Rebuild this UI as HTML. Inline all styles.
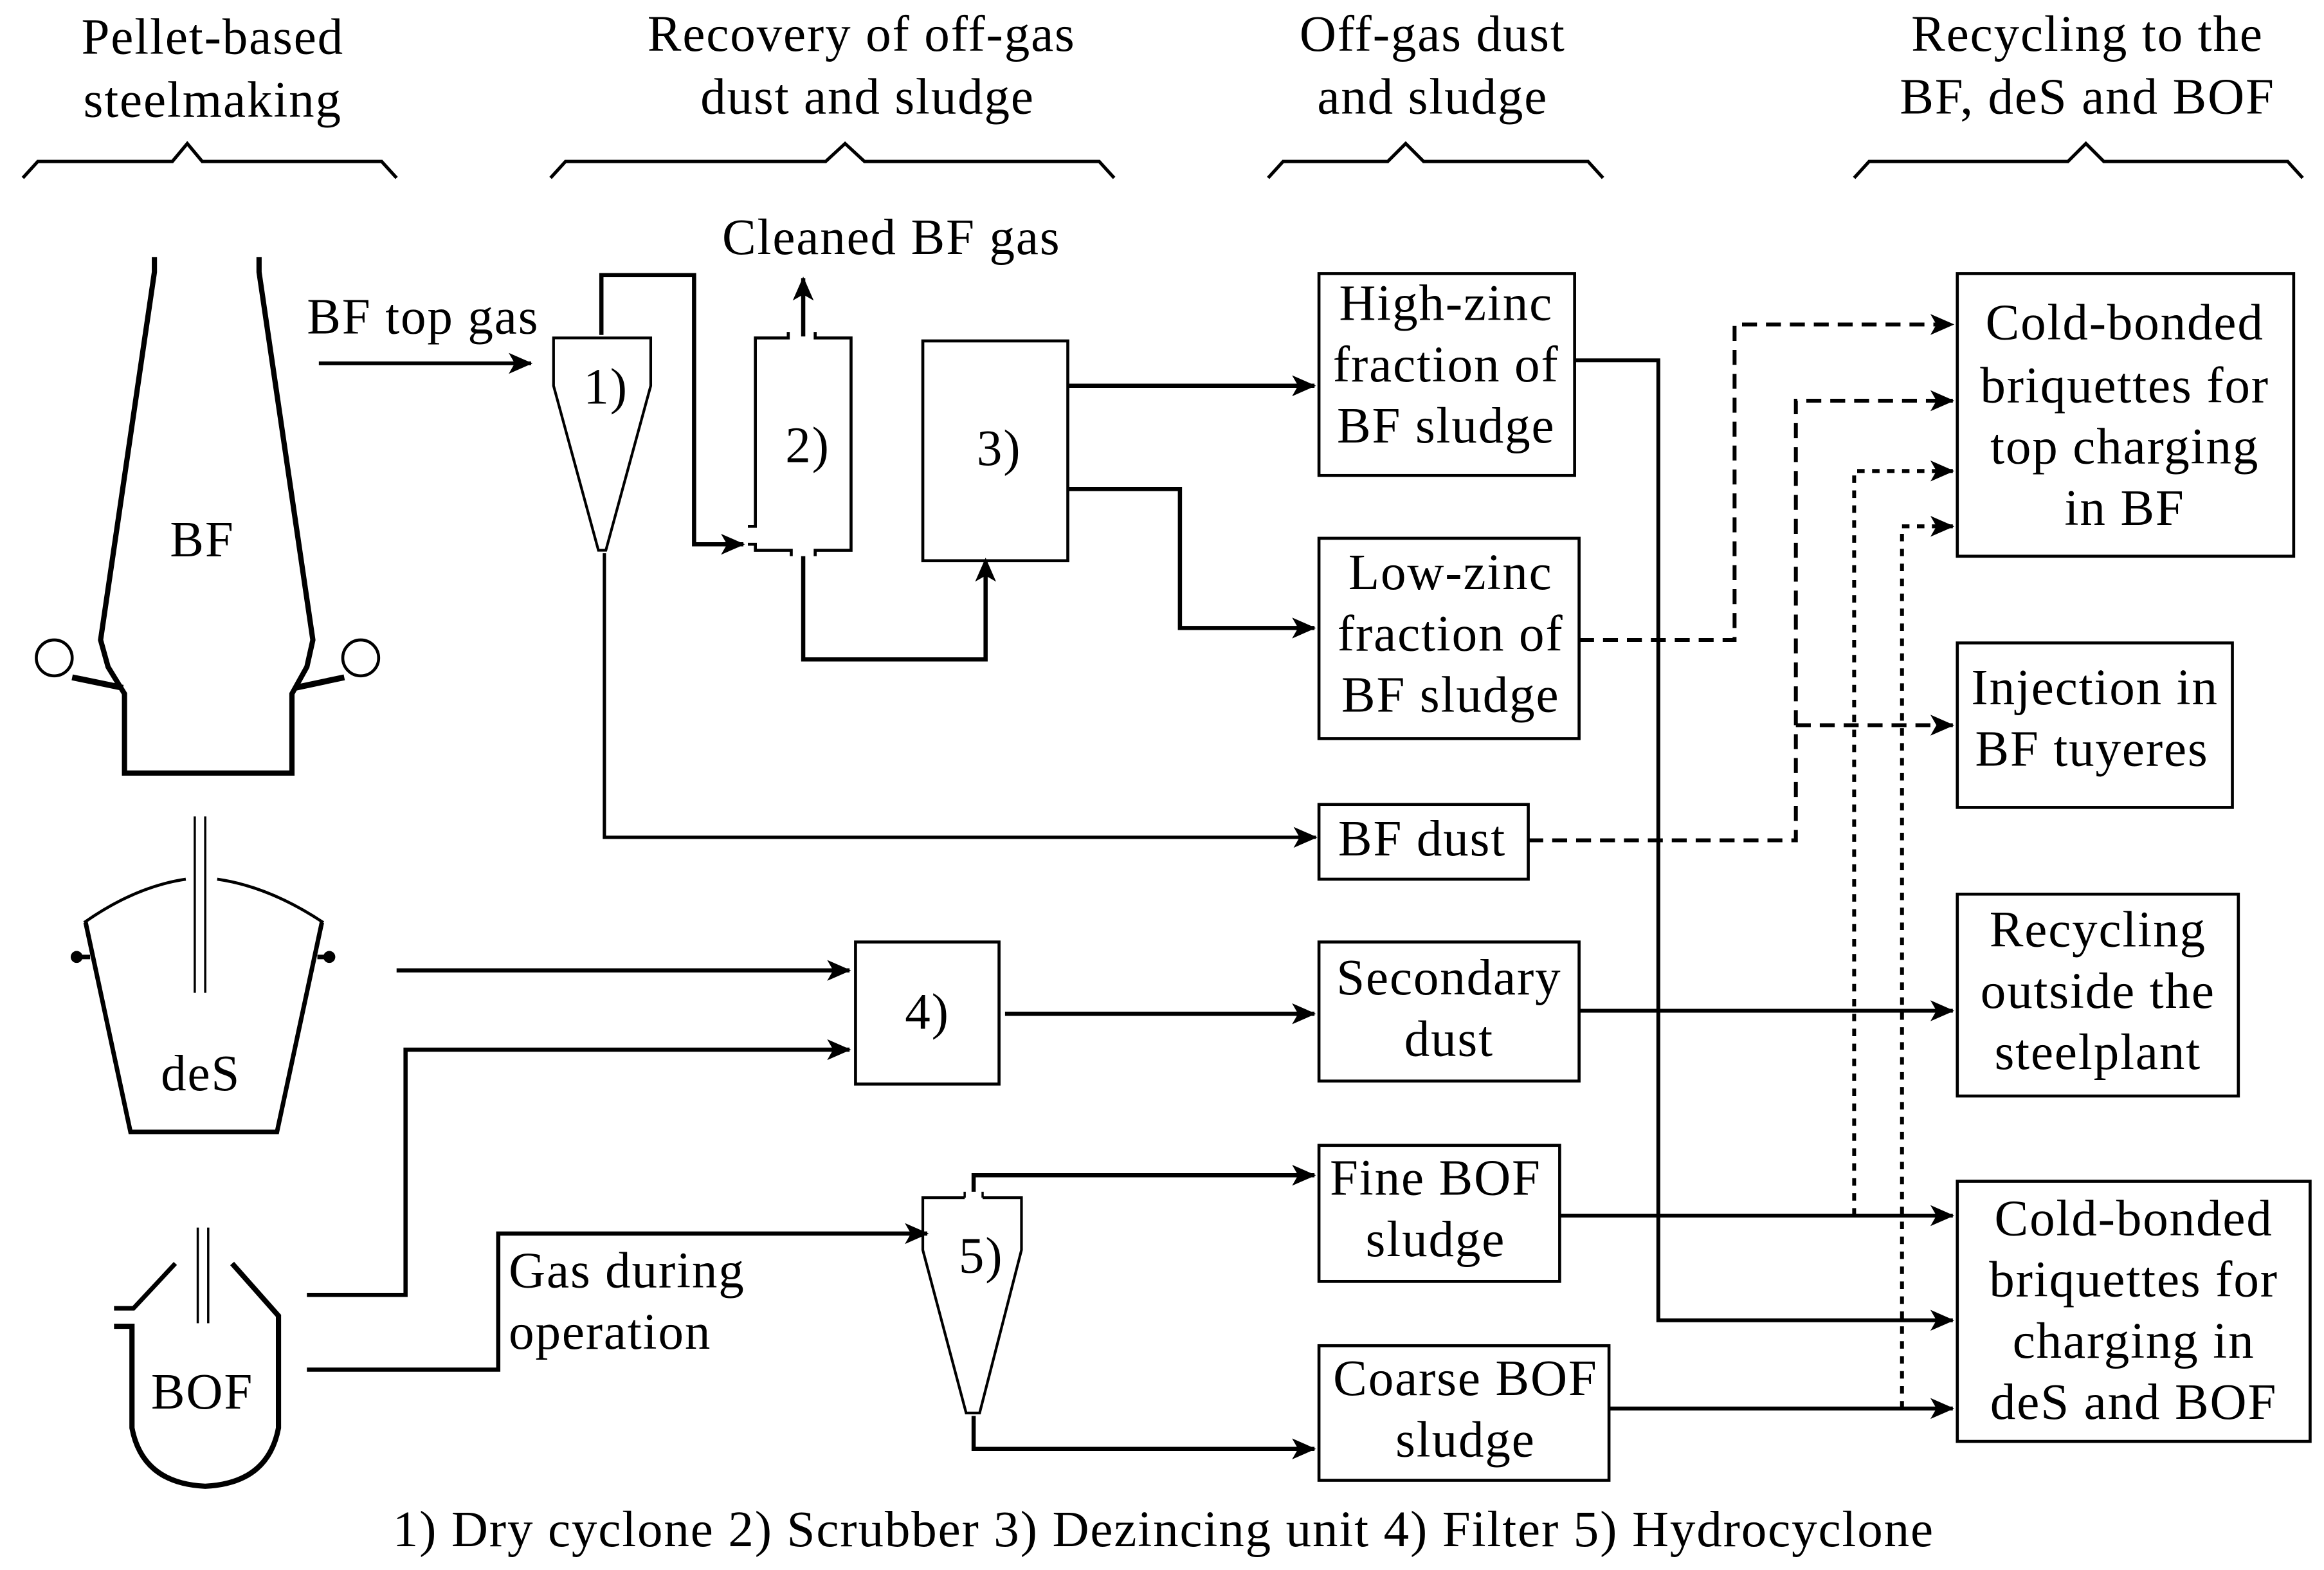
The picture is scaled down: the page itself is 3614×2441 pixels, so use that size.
<!DOCTYPE html>
<html><head><meta charset="utf-8"><style>
html,body{margin:0;padding:0;background:#fff;}
svg{display:block;}
text{font-family:"Liberation Serif",serif;font-size:34px;letter-spacing:0.8px;fill:#000;}
</style></head><body>
<svg width="3614" height="2441" viewBox="0 0 1554 1050" xmlns="http://www.w3.org/2000/svg">
<defs>
<marker id="b" markerWidth="16" markerHeight="16" refX="15" refY="8" orient="auto" markerUnits="userSpaceOnUse" viewBox="0 0 16 16">
<path d="M0,1 L16,8 L0,15 L4,8 z" fill="#000"/>
</marker>
</defs>
<g text-anchor="middle">
<text x="142" y="36">Pellet-based</text><text x="142" y="78">steelmaking</text>
<text x="576" y="34">Recovery of off-gas</text><text x="580" y="76">dust and sludge</text>
<text x="958" y="34">Off-gas dust</text><text x="958" y="76">and sludge</text>
<text x="1396" y="34">Recycling to the</text><text x="1396" y="76">BF, deS and BOF</text>
</g>
<g fill="none" stroke="#000" stroke-width="2.2">
<path d="M15,119 L25,108 L115,108 L125,96 L135,108 L255,108 L265,119"/>
<path d="M368,119 L378,108 L552,108 L565,96 L578,108 L735,108 L745,119"/>
<path d="M848,119 L858,108 L928,108 L940,96 L952,108 L1062,108 L1072,119"/>
<path d="M1240,119 L1250,108 L1383,108 L1395,96 L1407,108 L1530,108 L1540,119"/>
</g>
<!-- BF -->
<g fill="none" stroke="#000" stroke-width="3.5">
<path d="M103,172 L103,182 L67,428 L72,446 L83,464 L83,517 L195,517 L195,464 L205,446 L209,428 L173,182 L173,172"/>
<path d="M48,453 L82,460 M230,453 L197,460" stroke-width="4"/>
</g>
<circle cx="36" cy="440" r="12" fill="#fff" stroke="#000" stroke-width="2"/>
<circle cx="241" cy="440" r="12" fill="#fff" stroke="#000" stroke-width="2"/>
<text x="135" y="372" text-anchor="middle">BF</text>
<!-- deS -->
<g fill="none" stroke="#000">
<path d="M130,546 L130,664 M137,546 L137,664" stroke-width="1.5"/>
<path d="M56,617 Q90,593 124,588 M145,588 Q180,593 216,617" stroke-width="2"/>
<path d="M57,617 L87,757 L185,757 L215,617" stroke-width="3"/>
</g>
<circle cx="51" cy="640" r="4" fill="#000"/><circle cx="220" cy="640" r="4" fill="#000"/>
<path d="M51,640 L60,640 M212,640 L220,640" stroke="#000" stroke-width="3"/>
<text x="134" y="729" text-anchor="middle">deS</text>
<!-- BOF -->
<g fill="none" stroke="#000">
<path d="M132,821 L132,885 M139,821 L139,885" stroke-width="1.5"/>
<path d="M117,845 L89,875 L76,875" stroke-width="3"/>
<path d="M76,887 L88,887 L88,955 Q95,992 137,994 Q179,992 186,955 L186,880 L155,845" stroke-width="3.5"/>
</g>
<text x="135" y="942" text-anchor="middle">BOF</text>
<!-- BF top gas -->
<text x="205" y="223">BF top gas</text>
<path d="M213,243 L355,243" stroke="#000" stroke-width="2.5" marker-end="url(#b)"/>
<!-- cyclone 1 -->
<path d="M370,226 L435,226 L435,258 L405,368 L400,368 L370,258 Z" fill="none" stroke="#000" stroke-width="1.8"/>
<text x="405" y="270" text-anchor="middle">1)</text>
<g fill="none" stroke="#000" stroke-width="2.8">
<path d="M402,224 L402,184 L464,184 L464,364 L497,364" marker-end="url(#b)"/>
<path d="M404,370 L404,560 L880,560" stroke-width="2.2" marker-end="url(#b)"/>
</g>
<!-- scrubber -->
<g fill="none" stroke="#000" stroke-width="2">
<path d="M527,222 L527,226 L505,226 L505,352 L500,352"/>
<path d="M545,222 L545,226 L569,226 L569,368 L545,368 L545,372"/>
<path d="M500,364 L505,364 L505,368 L529,368 L529,372"/>
</g>
<text x="540" y="309" text-anchor="middle">2)</text>
<g fill="none" stroke="#000" stroke-width="2.8">
<path d="M537,225 L537,186" marker-end="url(#b)"/>
<path d="M537,372 L537,441 L659,441 L659,374" marker-end="url(#b)"/>
</g>
<text x="596" y="170" text-anchor="middle">Cleaned BF gas</text>
<!-- box 3 -->
<rect x="617" y="228" width="97" height="147" fill="none" stroke="#000" stroke-width="2"/>
<text x="668" y="311" text-anchor="middle">3)</text>
<g fill="none" stroke="#000" stroke-width="2.8">
<path d="M714,258 L879,258" marker-end="url(#b)"/>
<path d="M714,327 L789,327 L789,420 L879,420" marker-end="url(#b)"/>
</g>
<!-- boxes -->
<g fill="none" stroke="#000" stroke-width="2">
<rect x="882" y="183" width="171" height="135"/>
<rect x="882" y="360" width="174" height="134"/>
<rect x="882" y="538" width="140" height="50"/>
<rect x="882" y="630" width="174" height="93"/>
<rect x="882" y="766" width="161" height="91"/>
<rect x="882" y="900" width="194" height="90"/>
<rect x="572" y="630" width="96" height="95"/>
<rect x="1309" y="183" width="225" height="189"/>
<rect x="1309" y="430" width="184" height="110"/>
<rect x="1309" y="598" width="188" height="135"/>
<rect x="1309" y="790" width="236" height="174"/>
</g>
<g text-anchor="middle">
<text x="967" y="214">High-zinc</text><text x="967" y="255">fraction of</text><text x="967" y="296">BF sludge</text>
<text x="970" y="394">Low-zinc</text><text x="970" y="435">fraction of</text><text x="970" y="476">BF sludge</text>
<text x="951" y="572">BF dust</text>
<text x="969" y="665">Secondary</text><text x="969" y="706">dust</text>
<text x="960" y="799">Fine BOF</text><text x="960" y="840">sludge</text>
<text x="980" y="933">Coarse BOF</text><text x="980" y="974">sludge</text>
<text x="620" y="688">4)</text>
<text x="1421" y="227">Cold-bonded</text><text x="1421" y="269">briquettes for</text><text x="1421" y="310">top charging</text><text x="1421" y="351">in BF</text>
<text x="1401" y="471">Injection in</text><text x="1399" y="512">BF tuyeres</text>
<text x="1403" y="633">Recycling</text><text x="1403" y="674">outside the</text><text x="1403" y="715">steelplant</text>
<text x="1427" y="826">Cold-bonded</text><text x="1427" y="867">briquettes for</text><text x="1427" y="908">charging in</text><text x="1427" y="949">deS and BOF</text>
</g>
<!-- deS/BOF to filter -->
<g fill="none" stroke="#000" stroke-width="2.8">
<path d="M265,649 L568,649" marker-end="url(#b)"/>
<path d="M205,866 L271,866 L271,702 L568,702" marker-end="url(#b)"/>
<path d="M672,678 L879,678" marker-end="url(#b)"/>
<path d="M205,916 L333,916 L333,825 L620,825" marker-end="url(#b)"/>
</g>
<text x="340" y="861">Gas during</text><text x="340" y="902">operation</text>
<!-- hydrocyclone -->
<path d="M645,801 L617,801 L617,836 L646,945 L655,945 L683,836 L683,801 L657,801" fill="none" stroke="#000" stroke-width="1.8"/>
<path d="M645,801 L645,797 M657,801 L657,797" stroke="#000" stroke-width="1.5"/>
<text x="656" y="851" text-anchor="middle">5)</text>
<g fill="none" stroke="#000" stroke-width="2.8">
<path d="M651,797 L651,786 L879,786" marker-end="url(#b)"/>
<path d="M651,947 L651,969 L879,969" marker-end="url(#b)"/>
</g>
<!-- solid right connectors -->
<g fill="none" stroke="#000" stroke-width="2.6">
<path d="M1053,241 L1109,241 L1109,883 L1306,883" marker-end="url(#b)"/>
<path d="M1056,676 L1306,676" marker-end="url(#b)"/>
<path d="M1043,813 L1306,813" marker-end="url(#b)"/>
<path d="M1076,942 L1306,942" marker-end="url(#b)"/>
</g>
<!-- dashed connectors -->
<g fill="none" stroke="#000" stroke-width="2.6" stroke-dasharray="10,6">
<path d="M1056,428 L1160,428 L1160,217 L1306,217" marker-end="url(#b)"/>
<path d="M1022,562 L1201,562 L1201,268 L1306,268" marker-end="url(#b)"/>
<path d="M1201,485 L1306,485" marker-end="url(#b)"/>
</g>
<g fill="none" stroke="#000" stroke-width="2.6" stroke-dasharray="5,5">
<path d="M1240,813 L1240,315 L1306,315" marker-end="url(#b)"/>
<path d="M1272,942 L1272,352 L1306,352" marker-end="url(#b)"/>
</g>
<text x="778" y="1034" text-anchor="middle">1) Dry cyclone 2) Scrubber 3) Dezincing unit 4) Filter 5) Hydrocyclone</text>
</svg>
</body></html>
